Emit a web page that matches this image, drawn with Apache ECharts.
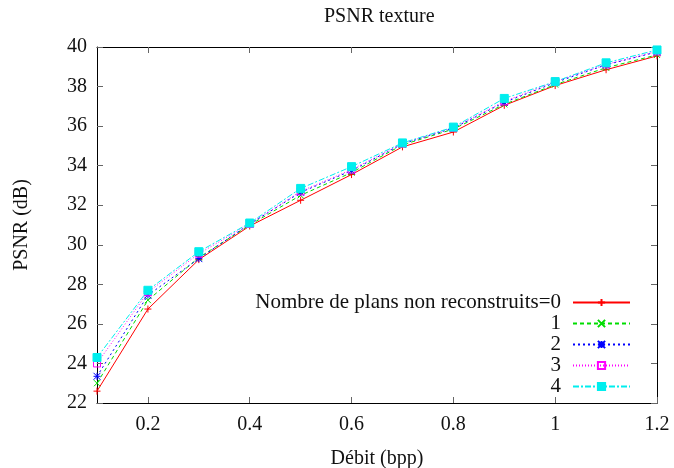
<!DOCTYPE html>
<html>
<head>
<meta charset="utf-8">
<script src="https://cdn.jsdelivr.net/npm/echarts@6/dist/echarts.min.js"></script>
<style>
  html, body { margin: 0; padding: 0; background: #fff; }
  #main { width: 674px; height: 468px; }
</style>
</head>
<body>
<div id="main"></div>
<script>
// débit (bpp)
var rates = [0.1, 0.2, 0.3, 0.4, 0.5, 0.6, 0.7, 0.8, 0.9, 1.0, 1.1, 1.2];
// PSNR (dB) selon le nombre de plans non reconstruits
var psnr0 = [22.6, 26.75, 29.25, 30.95, 32.25, 33.55, 34.95, 35.7, 37.05, 38.05, 38.85, 39.55];
var psnr1 = [23.0, 27.2, 29.35, 31.0, 32.5, 33.65, 35.05, 35.85, 37.1, 38.1, 38.95, 39.6];
var psnr2 = [23.35, 27.45, 29.3, 31.05, 32.65, 33.75, 35.1, 35.9, 37.2, 38.2, 39.1, 39.75];
var psnr3 = [24.0, 27.6, 29.55, 31.05, 32.7, 33.8, 35.12, 35.92, 37.25, 38.25, 39.12, 39.78];
var psnr4 = [24.3, 27.7, 29.65, 31.1, 32.85, 33.95, 35.15, 35.95, 37.4, 38.25, 39.2, 39.85];
var names = ['Nombre de plans non reconstruits=0', '1', '2', '3', '4'];
var xTicks = [0.2, 0.4, 0.6, 0.8, 1.0, 1.2];

var FONT = 'Liberation Serif';

function pairs(ys) {
  var out = [];
  for (var i = 0; i < rates.length; i++) {
    out.push([rates[i], ys[i]]);
  }
  return out;
}

var chart = echarts.init(document.getElementById('main'), null, { renderer: 'canvas' });

var frameLine = { show: true, onZero: false, lineStyle: { color: '#000', width: 1 } };
var tickStyle = { show: true, inside: true, length: 6, lineStyle: { color: '#666', width: 1 } };

function mkSeries(name, ys, color, dash, symbol, size, fill) {
  return {
    name: name,
    type: 'line',
    data: pairs(ys),
    symbol: symbol,
    symbolSize: size,
    showSymbol: true,
    lineStyle: { color: color, width: 1, type: dash },
    itemStyle: { color: fill, borderColor: color, borderWidth: 1 },
    emphasis: { disabled: true },
    animation: false
  };
}

var option = {
  backgroundColor: '#fff',
  title: {
    text: 'PSNR texture',
    left: 324,
    top: 7,
    padding: 0,
    textStyle: { fontFamily: FONT, fontWeight: 'normal', fontSize: 20, color: '#111' }
  },
  legend: {
    orient: 'vertical',
    align: 'right',
    right: 43,
    top: 292,
    padding: 0,
    itemWidth: 57,
    itemHeight: 9,
    itemGap: 0,
    data: names,
    textStyle: { fontFamily: FONT, fontSize: 21, color: '#111', padding: [0, 7, 0, 0] }
  },
  grid: { left: 97, right: 17, top: 47, bottom: 65, containLabel: false, outerBoundsMode: 'none' },
  xAxis: [{
    type: 'value',
    min: 0.1,
    max: 1.2,
    name: 'Débit (bpp)',
    nameLocation: 'middle',
    nameGap: 46,
    nameTextStyle: { fontFamily: FONT, fontSize: 20, color: '#111' },
    axisLine: frameLine,
    axisTick: Object.assign({ customValues: xTicks }, tickStyle),
    axisLabel: {
      customValues: xTicks,
      margin: 12,
      fontFamily: FONT,
      fontSize: 20,
      color: '#111',
      formatter: function (v) { return String(Math.round(v * 10) / 10); }
    },
    splitLine: { show: false }
  }, {
    type: 'value',
    position: 'top',
    min: 0.1,
    max: 1.2,
    axisLine: frameLine,
    axisTick: Object.assign({ customValues: xTicks }, tickStyle),
    axisLabel: { show: false },
    splitLine: { show: false }
  }],
  yAxis: [{
    type: 'value',
    min: 22,
    max: 40,
    interval: 2,
    name: 'PSNR (dB)',
    nameLocation: 'middle',
    nameGap: 65,
    nameTextStyle: { fontFamily: FONT, fontSize: 20, color: '#111' },
    axisLine: frameLine,
    axisTick: tickStyle,
    axisLabel: { margin: 10, fontFamily: FONT, fontSize: 20, color: '#111' },
    splitLine: { show: false }
  }, {
    type: 'value',
    position: 'right',
    min: 22,
    max: 40,
    interval: 2,
    axisLine: frameLine,
    axisTick: tickStyle,
    axisLabel: { show: false },
    splitLine: { show: false }
  }],
  series: [
    mkSeries(names[0], psnr0, '#ff0000', 'solid', 'path://M0,5L10,5M5,0L5,10', 7, 'none'),
    mkSeries(names[1], psnr1, '#00dd00', [4, 3], 'path://M0,0L10,10M10,0L0,10', 6, 'none'),
    mkSeries(names[2], psnr2, '#0000ff', [2, 3], 'path://M0,0L10,10M10,0L0,10M5,0L5,10M0,5L10,5', 7, 'none'),
    mkSeries(names[3], psnr3, '#ff00ff', [1, 2], 'rect', 7, 'rgba(255,255,255,0)'),
    mkSeries(names[4], psnr4, '#00eeee', [6, 2, 2, 2], 'rect', 8, '#00eeee')
  ]
};

chart.setOption(option);
</script>
</body>
</html>
